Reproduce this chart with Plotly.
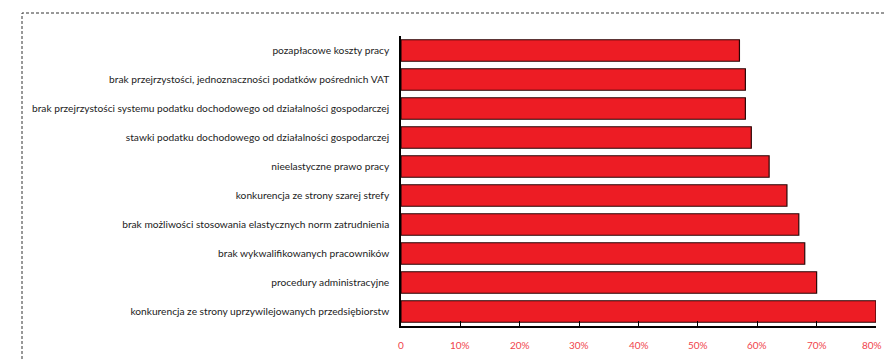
import plotly.graph_objects as go

categories = [
    "konkurencja ze strony uprzywilejowanych przedsiębiorstw",
    "procedury administracyjne",
    "brak wykwalifikowanych pracowników",
    "brak możliwości stosowania elastycznych norm zatrudnienia",
    "konkurencja ze strony szarej strefy",
    "nieelastyczne prawo pracy",
    "stawki podatku dochodowego od działalności gospodarczej",
    "brak przejrzystości systemu podatku dochodowego od działalności gospodarczej",
    "brak przejrzystości, jednoznaczności podatków pośrednich VAT",
    "pozapłacowe koszty pracy",
]
values = [80, 70, 68, 67, 65, 62, 59, 58, 58, 57]
tick_vals = [0, 10, 20, 30, 40, 50, 60, 70, 80]
tick_text = ["0", "10%", "20%", "30%", "40%", "50%", "60%", "70%", "80%"]

fig = go.Figure(go.Bar(
    x=values, y=categories, orientation="h",
    marker=dict(color="#ed1c24", line=dict(color="#2a0606", width=1.2)),
    hoverinfo="skip",
))

W, H = 884, 361
L, R, T, B = 401, 8, 36, 35
pw, ph = W - L - R, H - T - B

FONT = "Lato, sans-serif"

annotations = []
last = len(tick_vals) - 1
for i, (v, t) in enumerate(zip(tick_vals, tick_text)):
    annotations.append(dict(
        x=v, y=0, xref="x", yref="paper", text=t, showarrow=False,
        xanchor="right" if i == last else "center", yanchor="top",
        xshift=7 if i == last else 0, yshift=-12, borderpad=0,
        font=dict(color="#f0444c", size=10, family=FONT),
    ))

fig.update_layout(
    width=W, height=H,
    margin=dict(l=L, r=R, t=T, b=B, pad=0),
    paper_bgcolor="white", plot_bgcolor="white",
    bargap=0.26,
    showlegend=False,
    font=dict(family=FONT, size=10.2, color="#222"),
    xaxis=dict(
        range=[0, 80], tickvals=tick_vals, showticklabels=False,
        showgrid=False, zeroline=False, automargin=False,
        showline=True, linecolor="black", linewidth=1.5,
        ticks="inside", ticklen=5, tickcolor="black", tickwidth=1,
        fixedrange=True,
    ),
    yaxis=dict(
        range=[-0.5, 9.5], showgrid=False, zeroline=False, automargin=False,
        showline=True, linecolor="black", linewidth=1.5,
        ticks="", ticklabelstandoff=8,
        tickfont=dict(size=10.2, color="#222", family=FONT),
        fixedrange=True,
    ),
    annotations=annotations,
    shapes=[
        dict(type="rect", xref="paper", yref="paper",
             x0=(22 - L) / pw, x1=(W + 20 - L) / pw,
             y0=-(B + 20) / ph, y1=(H - B - 13) / ph,
             line=dict(color="#333", width=1, dash="3px,2px"),
             fillcolor="rgba(0,0,0,0)", layer="below"),
    ],
)

fig.write_html("out.html")
